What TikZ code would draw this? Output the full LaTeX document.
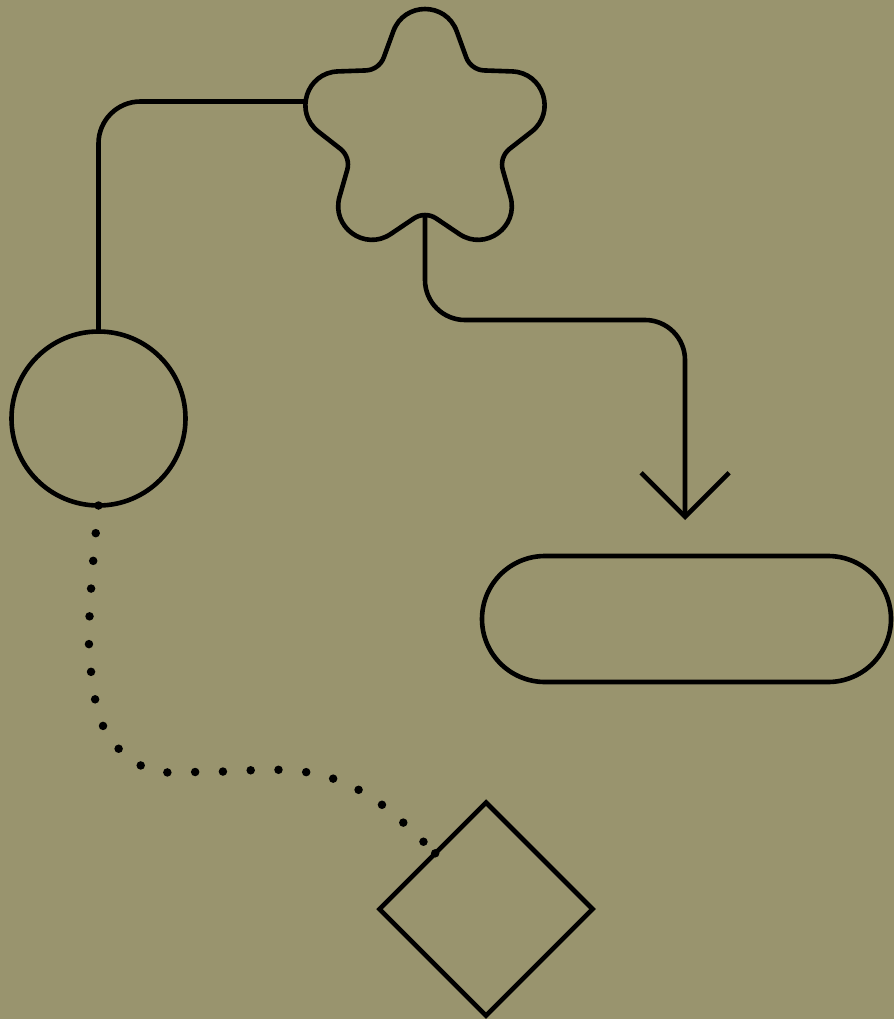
\documentclass[tikz,border=0pt]{standalone}
\usetikzlibrary{shapes.geometric,arrows.meta,calc}
\definecolor{olivebg}{RGB}{153,148,110}
\begin{document}
\begin{tikzpicture}[x=1pt,y=-1pt,
  outline/.style={draw=black,line width=4.6pt,inner sep=0pt,outer sep=0pt},
  wire/.style={draw=black,line width=4.6pt},
  dots/.style={draw=black,line width=8.5pt,line cap=round,dash pattern=on 0pt off 27.8pt},
  barb/.style={-{Straight Barb[length=44pt,width=88pt,line join=miter,line cap=butt]}}]
  % canvas
  \useasboundingbox (0,0) rectangle (894,1019);
  \fill[olivebg] (0,0) rectangle (894,1019);

  % shapes
  \node[outline,circle,minimum size=174pt] (circ) at (98.5,418.5) {};
  \node[outline,rectangle,rounded corners=63pt,minimum width=409pt,minimum height=126pt] (pill) at (686.5,619) {};
  \node[outline,diamond,aspect=1,minimum width=213pt,minimum height=213pt] (dia) at (486,909) {};

  % five-pointed star: polygon corners replaced by circular arcs
  % (tips: radius 33.7, concave corners: radius 20)
  \begin{scope}[shift={(425,133)}]
    \foreach \k in {0,...,4} {
      \coordinate (T\k) at ({270+72*\k}:188.8);
      \coordinate (I\k) at ({306+72*\k}:77.9);
    }
  \end{scope}
  \draw[wire,line join=round] ($(T0)!92.6pt!(I4)$)
    \foreach \k/\p/\n in {0/4/1,1/0/2,2/1/3,3/2/4,4/3/0} {
      .. controls ($(T\k)!61.1pt!(I\p)$) and ($(T\k)!61.1pt!(I\k)$) .. ($(T\k)!92.6pt!(I\k)$)
      -- ($(I\k)!13.5pt!(T\k)$)
      .. controls ($(I\k)!5.35pt!(T\k)$) and ($(I\k)!5.35pt!(T\n)$) .. ($(I\k)!13.5pt!(T\n)$)
      -- ($(T\n)!92.6pt!(I\k)$)
    } -- cycle;
  \coordinate (starW) at (305.6,101.5);
  \coordinate (starS) at (425,215);

  % connectors
  \coordinate (turn) at (685,320);
  \coordinate (tipEnd) at (685,520);
  \draw[wire,rounded corners=42pt] (starW) -| (circ.north);
  \draw[wire,barb,rounded corners=40pt] (starS) |- (turn) -- (tipEnd);

  \coordinate (dotEnd) at ($(dia.west)!0.523!(dia.north)$);
  \draw[dots] plot[smooth,tension=0.6] coordinates
    {(circ.south) (91,590) (90,662) (105,730) (146,768) (201,772) (284,770) (337,780) (385,807) (dotEnd)};
  \fill (dotEnd) circle[radius=4.25pt];
\end{tikzpicture}
\end{document}
